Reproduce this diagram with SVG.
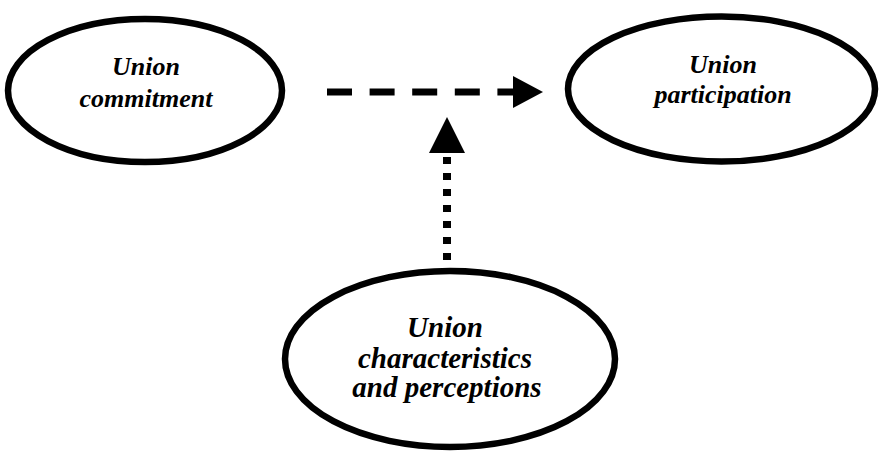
<svg xmlns="http://www.w3.org/2000/svg" width="880" height="456" viewBox="0 0 880 456">
  <style>
    .node { fill: #ffffff; stroke: #000000; stroke-width: 6.5; }
    .lbl { font-family: "Liberation Serif", "Times New Roman", serif; font-weight: bold; font-style: italic; fill: #000000; text-anchor: middle; }
    .dash { stroke: #000000; stroke-width: 7; fill: none; stroke-dasharray: 25 17.6; }
    .dot { stroke: #000000; stroke-width: 8; fill: none; stroke-dasharray: 7 9; }
    .head { fill: #000000; }
  </style>
  <rect width="880" height="456" fill="#ffffff"/>

  <g id="connectors">
    <!-- dashed link: commitment to participation -->
    <line class="dash" x1="327" y1="92" x2="514" y2="92"/>
    <polygon class="head" points="513,76 543,92 513,108"/>
    <!-- dotted link: characteristics up to the dashed link -->
    <line class="dot" x1="447" y1="260" x2="447" y2="153"/>
    <polygon class="head" points="429,153 447,117 465,153"/>
  </g>

  <g id="union-commitment">
    <ellipse class="node" cx="145" cy="90.5" rx="137" ry="71.5"/>
    <text class="lbl" font-size="26" x="146" y="75">Union</text>
    <text class="lbl" font-size="26" x="146" y="107">commitment</text>
  </g>

  <g id="union-participation">
    <ellipse class="node" cx="721.5" cy="89" rx="153.5" ry="72.5"/>
    <text class="lbl" font-size="26" x="723" y="73">Union</text>
    <text class="lbl" font-size="26" x="723" y="103">participation</text>
  </g>

  <g id="union-characteristics">
    <ellipse class="node" cx="450" cy="359" rx="165" ry="88"/>
    <text class="lbl" font-size="29" x="445" y="337">Union</text>
    <text class="lbl" font-size="29" x="445" y="368">characteristics</text>
    <text class="lbl" font-size="29" x="447" y="397">and perceptions</text>
  </g>
</svg>
